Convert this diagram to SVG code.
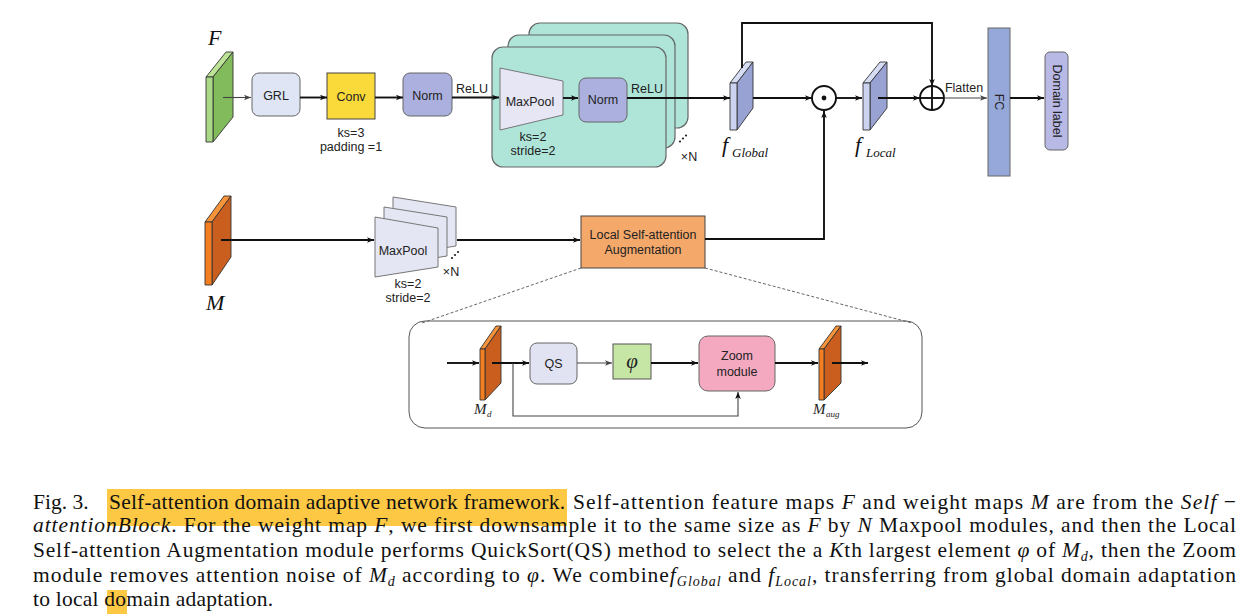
<svg xmlns="http://www.w3.org/2000/svg" width="1253" height="614" viewBox="0 0 1253 614">
<defs>
<marker id="ah" viewBox="0 0 10 10" refX="10" refY="5" markerWidth="8" markerHeight="7" orient="auto" markerUnits="userSpaceOnUse">
<path d="M0,1 L10,5 L0,9 L2.5,5 z" fill="#111"/>
</marker>
<marker id="ahg" viewBox="0 0 10 10" refX="10" refY="5" markerWidth="8" markerHeight="7" orient="auto" markerUnits="userSpaceOnUse">
<path d="M0,1 L10,5 L0,9 L2.5,5 z" fill="#444"/>
</marker>
</defs>
<style>
.s{font-family:"Liberation Sans",Arial,sans-serif;font-size:12.5px;fill:#222;text-anchor:middle}
.mi{font-family:"Liberation Serif","Times New Roman",serif;font-style:italic}
.cap{font-family:"Liberation Serif","Times New Roman",serif;font-size:21.5px;fill:#111}
.ln{stroke:#111;stroke-width:1.9;fill:none}
.lg{stroke:#444;stroke-width:1.1;fill:none}
.box{stroke:#666;stroke-width:1}
.sl{stroke:#333;stroke-width:0.9;stroke-linejoin:round}
.teal{fill:#afe5d9;stroke:#666;stroke-width:1.2}
.dash{stroke:#555;stroke-width:0.9;stroke-dasharray:3,2;fill:none}
</style>
<rect width="1253" height="614" fill="#fff"/>

<g id="F">
<polygon class="sl" points="206,77 213,77 233,52 226,52" fill="#bde396"/>
<polygon class="sl" points="213,77 233,52 233,117 213,142" fill="#82bb5c"/>
<rect class="sl" x="206" y="77" width="7" height="65" fill="#a9d987"/>
<text class="mi" x="208" y="45" font-size="22" fill="#111">F</text>
</g>

<g id="GRL">
<rect class="box" x="252" y="73" width="48" height="43" rx="7" fill="#dfe5f4"/>
<text class="s" x="276" y="100">GRL</text>
</g>

<g id="Conv">
<rect x="327" y="73" width="48" height="46" fill="#fad93a" stroke="#444" stroke-width="1"/>
<text class="s" x="351" y="101">Conv</text>
<text class="s" x="351" y="137">ks=3</text>
<text class="s" x="351" y="151">padding =1</text>
</g>

<g id="Norm1">
<rect class="box" x="403" y="73" width="49" height="43" rx="7" fill="#abb0df"/>
<text class="s" x="427.5" y="100">Norm</text>
<text class="s" x="472" y="93">ReLU</text>
</g>

<g id="Block">
<rect class="teal" x="529" y="23" width="159" height="105" rx="11"/>
<rect class="teal" x="508" y="35" width="167" height="113" rx="11"/>
<rect class="teal" x="492" y="47" width="174" height="120" rx="11"/>
<polygon points="500,68 563,81 563,115 500,130" fill="#e6e6f5" stroke="#777" stroke-width="1"/>
<text class="s" x="530" y="106">MaxPool</text>
<rect class="box" x="579" y="78" width="48" height="44" rx="7" fill="#abb0df"/>
<text class="s" x="603" y="104">Norm</text>
<text class="s" x="647" y="93">ReLU</text>
<text class="s" x="533" y="141">ks=2</text>
<text class="s" x="533" y="155">stride=2</text>
<circle cx="680" cy="141.5" r="1.1" fill="#222"/>
<circle cx="683" cy="138.5" r="1.1" fill="#222"/>
<circle cx="686" cy="135.5" r="1.1" fill="#222"/>
<text class="s" x="689" y="161">×N</text>
</g>

<g id="fGlobal">
<polygon class="sl" points="730,83 737,83 753,62 746,62" fill="#d6dcf3"/>
<polygon class="sl" points="737,83 753,62 753,108 737,130" fill="#99a3d3"/>
<rect class="sl" x="730" y="83" width="7" height="47" fill="#ccd3f0"/>
<text class="mi" x="722" y="152" font-size="22" fill="#111">f</text>
<text class="mi" x="732" y="157" font-size="13" fill="#111">Global</text>
</g>

<g id="odot">
<circle cx="824" cy="98" r="12" fill="#fff" stroke="#111" stroke-width="1.9"/>
<circle cx="824" cy="98" r="2.4" fill="#111"/>
</g>

<g id="fLocal">
<polygon class="sl" points="863,83 870,83 887,62 880,62" fill="#d6dcf3"/>
<polygon class="sl" points="870,83 887,62 887,108 870,130" fill="#99a3d3"/>
<rect class="sl" x="863" y="83" width="7" height="47" fill="#ccd3f0"/>
<text class="mi" x="855" y="152" font-size="22" fill="#111">f</text>
<text class="mi" x="866" y="157" font-size="13" fill="#111">Local</text>
</g>

<g id="oplus">
<circle cx="932" cy="98" r="12" fill="#fff" stroke="#111" stroke-width="1.9"/>
<line class="ln" x1="920" y1="98" x2="944" y2="98"/>
<line class="ln" x1="932" y1="86" x2="932" y2="110"/>
<text class="s" x="964" y="92">Flatten</text>
</g>

<g id="FC">
<rect x="988" y="28" width="22" height="148" fill="#96a7da" stroke="#666" stroke-width="1"/>
<text class="s" transform="translate(995,102) rotate(90)" x="0" y="0">FC</text>
</g>

<g id="DomainLabel">
<rect class="box" x="1045" y="52" width="23" height="98" rx="5" fill="#b9b9e6"/>
<text class="s" transform="translate(1052.5,101) rotate(90)" x="0" y="0">Domain label</text>
</g>

<g id="M">
<polygon class="sl" points="205,222 212,222 231,196 224,196" fill="#f7943a"/>
<polygon class="sl" points="212,222 231,196 231,257 212,285" fill="#c95e1e"/>
<rect class="sl" x="205" y="222" width="7" height="63" fill="#f57e20"/>
<text class="mi" x="206" y="310" font-size="22" fill="#111">M</text>
</g>

<g id="MaxPool2">
<polygon points="393,197 456,207 456,246 393,256" fill="#e4e6f4" stroke="#777" stroke-width="1"/>
<polygon points="384,207 447,217 447,256 384,266" fill="#e4e6f4" stroke="#777" stroke-width="1"/>
<polygon points="375,217 438,228 438,267 375,277" fill="#e4e6f4" stroke="#777" stroke-width="1"/>
<text class="s" x="403" y="255">MaxPool</text>
<text class="s" x="408" y="288">ks=2</text>
<text class="s" x="408" y="302">stride=2</text>
<circle cx="452" cy="258" r="1.1" fill="#222"/>
<circle cx="455" cy="255" r="1.1" fill="#222"/>
<circle cx="458" cy="252" r="1.1" fill="#222"/>
<text class="s" x="451" y="276">×N</text>
</g>

<g id="LSA">
<rect x="581" y="216" width="124" height="52" fill="#f4a96b" stroke="#444" stroke-width="1"/>
<text class="s" x="643" y="239">Local Self-attention</text>
<text class="s" x="643" y="254">Augmentation</text>
</g>

<g id="Panel">
<rect x="409" y="321" width="513" height="107" rx="16" fill="none" stroke="#555" stroke-width="1"/>
<polygon class="sl" points="480,349 485,349 501,326 496,326" fill="#f7943a"/>
<polygon class="sl" points="485,349 501,326 501,383 485,400" fill="#c95e1e"/>
<rect class="sl" x="480" y="349" width="5" height="51" fill="#f57e20"/>
<text class="mi" x="474" y="414" font-size="15" fill="#222">M</text>
<text class="mi" x="487" y="417" font-size="9" fill="#222">d</text>
<rect class="box" x="530" y="343" width="47" height="41" rx="7" fill="#e1e3f3"/>
<text class="s" x="553.5" y="368">QS</text>
<rect x="613" y="344" width="38" height="35" fill="#c6e6a6" stroke="#555" stroke-width="1"/>
<text class="mi" x="632" y="368" font-size="21" fill="#222" text-anchor="middle">φ</text>
<rect class="box" x="699" y="336" width="76" height="55" rx="9" fill="#f5a9c0"/>
<text class="s" x="737" y="360">Zoom</text>
<text class="s" x="737" y="376">module</text>
<polygon class="sl" points="819,349 824,349 841,326 836,326" fill="#f7943a"/>
<polygon class="sl" points="824,349 841,326 841,383 824,400" fill="#c95e1e"/>
<rect class="sl" x="819" y="349" width="5" height="51" fill="#f57e20"/>
<text class="mi" x="813" y="414" font-size="15" fill="#222">M</text>
<text class="mi" x="826" y="417" font-size="9" fill="#222">aug</text>
</g>

<g id="connectors">
<line class="lg" x1="223" y1="97.5" x2="251" y2="97.5" marker-end="url(#ahg)"/>
<line class="ln" x1="300" y1="97.5" x2="327" y2="97.5" marker-end="url(#ah)"/>
<line class="ln" x1="375" y1="97.5" x2="403" y2="97.5" marker-end="url(#ah)"/>
<line class="ln" x1="452" y1="97.5" x2="499" y2="97.5" marker-end="url(#ah)"/>
<line class="ln" x1="563" y1="98" x2="578" y2="98" stroke-width="1.3" marker-end="url(#ah)"/>
<line class="ln" x1="627" y1="98" x2="730" y2="98" marker-end="url(#ah)"/>
<line class="ln" x1="753" y1="98" x2="812" y2="98" marker-end="url(#ah)"/>
<path class="ln" d="M742,68 V23 H932 V86" marker-end="url(#ah)"/>
<line class="ln" x1="836" y1="98" x2="862" y2="98" marker-end="url(#ah)"/>
<line class="ln" x1="878" y1="98" x2="920" y2="98" marker-end="url(#ah)"/>
<line class="lg" x1="944" y1="98" x2="987" y2="98" marker-end="url(#ahg)"/>
<line class="ln" x1="1010" y1="98" x2="1044" y2="98" marker-end="url(#ah)"/>
<line class="ln" x1="221" y1="240" x2="374" y2="240" marker-end="url(#ah)"/>
<line class="ln" x1="457" y1="240" x2="580" y2="240" marker-end="url(#ah)"/>
<path class="ln" d="M705,239 H824 V111" marker-end="url(#ah)"/>
<line class="dash" x1="581" y1="268" x2="422" y2="323"/>
<line class="dash" x1="705" y1="268" x2="912" y2="323"/>
<line class="ln" x1="447" y1="363" x2="479" y2="363" marker-end="url(#ah)"/>
<line class="ln" x1="492" y1="363" x2="529" y2="363" marker-end="url(#ah)"/>
<path class="lg" d="M513,363 V416 H738 V392" stroke-width="1.5" marker-end="url(#ah)"/>
<line class="lg" x1="577" y1="363" x2="612" y2="363" marker-end="url(#ahg)"/>
<line class="ln" x1="651" y1="363" x2="698" y2="363" marker-end="url(#ah)"/>
<line class="ln" x1="775" y1="363" x2="818" y2="363" marker-end="url(#ah)"/>
<line class="ln" x1="832" y1="363" x2="868" y2="363" marker-end="url(#ah)"/>
</g>

<g id="caption">
<rect x="107" y="489" width="460" height="37" fill="#fdc843"/>
<rect x="107" y="590" width="20" height="24" fill="#fdc843"/>
<text class="cap" x="33" y="509">Fig. 3.</text>
<text class="cap" x="109" y="509" textLength="456" lengthAdjust="spacing">Self-attention domain adaptive network framework.</text>
<text class="cap" x="573" y="509" textLength="663" lengthAdjust="spacing">Self-attention feature maps <tspan class="mi">F</tspan> and weight maps <tspan class="mi">M</tspan> are from the <tspan class="mi">Self</tspan> −</text>
<text class="cap" x="33" y="532" textLength="1203" lengthAdjust="spacing"><tspan class="mi">attentionBlock</tspan>. For the weight map <tspan class="mi">F</tspan>, we first downsample it to the same size as <tspan class="mi">F</tspan> by <tspan class="mi">N</tspan> Maxpool modules, and then the Local</text>
<text class="cap" x="33" y="557" textLength="1203" lengthAdjust="spacing">Self-attention Augmentation module performs QuickSort(QS) method to select the a <tspan class="mi">K</tspan>th largest element <tspan class="mi">φ</tspan> of <tspan class="mi">M</tspan><tspan class="mi" font-size="14" dy="4">d</tspan><tspan dy="-4">, then the Zoom</tspan></text>
<text class="cap" x="33" y="582" textLength="1203" lengthAdjust="spacing">module removes attention noise of <tspan class="mi">M</tspan><tspan class="mi" font-size="14" dy="4">d</tspan><tspan dy="-4"> according to </tspan><tspan class="mi">φ</tspan>. We combine<tspan class="mi">f</tspan><tspan class="mi" font-size="14" dy="4">Global</tspan><tspan dy="-4"> and </tspan><tspan class="mi">f</tspan><tspan class="mi" font-size="14" dy="4">Local</tspan><tspan dy="-4">, transferring from global domain adaptation</tspan></text>
<text class="cap" x="33" y="606" textLength="240" lengthAdjust="spacing">to local domain adaptation.</text>
</g>
</svg>
